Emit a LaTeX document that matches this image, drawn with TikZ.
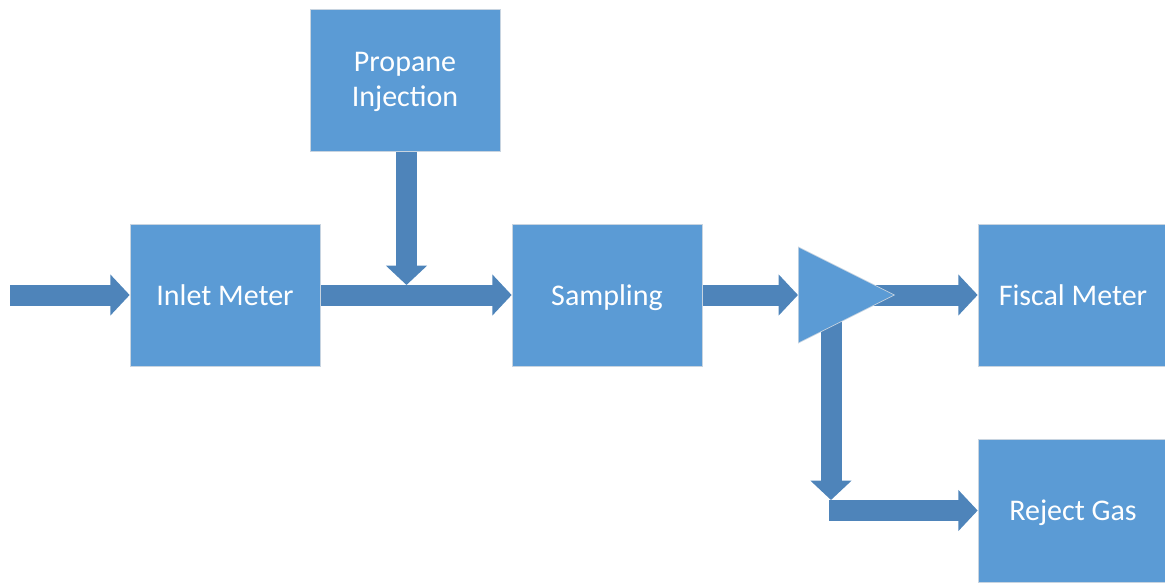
\documentclass[tikz,border=0pt]{standalone}
\usepackage{fontspec}
\setmainfont{Carlito}
\usetikzlibrary{arrows.meta,shapes.geometric}
\definecolor{boxblue}{HTML}{5B9BD5}
\definecolor{arrblue}{HTML}{4E84BA}
\definecolor{edgegray}{HTML}{C8D4E0}
\pgfdeclarelayer{background}
\pgfsetlayers{background,main}
\tikzset{
  block/.style={rectangle, fill=boxblue, draw=edgegray, line width=0.5pt,
    minimum width=142.5pt, minimum height=106.5pt, inner sep=0pt,
    text=white, align=center, font=\fontsize{22.5}{26.5}\selectfont},
  oneline/.style={text depth=0pt},
  blockarrow/.style={draw=arrblue, line width=15.75pt,
    -{Triangle[width=30pt,length=14.5pt]}}
}
\begin{document}
\begin{tikzpicture}[x=0.75pt,y=-0.75pt]
\useasboundingbox (0,0) rectangle (1165,583);
\node[block, text depth=1pt] (prop) at (405,80) {Propane\\Injection};
\node[block, oneline] (inlet) at (225,295) {Inlet Meter};
\node[block, oneline] (samp) at (607,295) {Sampling};
\node[block, oneline] (fiscal) at (1073,295) {Fiscal Meter};
\node[block, oneline, minimum height=107.25pt] (reject) at (1073,510.5) {Reject Gas};
\node[isosceles triangle, isosceles triangle stretches, shape border rotate=0,
  minimum width=72pt, minimum height=72pt, inner sep=0pt, anchor=west,
  fill=boxblue, draw=edgegray, line width=0.5pt] (tri) at (798,295) {};
\coordinate (src) at (10,295);
\coordinate (join) at (406.5,285);
\coordinate (split) at (831,320);
\coordinate (turn) at (831,500);
\coordinate (rejstart) at (829,510.5);
\begin{pgfonlayer}{background}
\draw[blockarrow] (src) -- (inlet.west);
\draw[blockarrow] (inlet.east) -- (samp.west);
\draw[blockarrow] (prop.south -| join) -- (join);
\draw[blockarrow] (samp.east) -- (tri.west);
\draw[blockarrow] (tri.center) -- (fiscal.west);
\draw[blockarrow] (split) -- (turn);
\draw[blockarrow] (rejstart) -- (reject.west);
\end{pgfonlayer}
\end{tikzpicture}
\end{document}
